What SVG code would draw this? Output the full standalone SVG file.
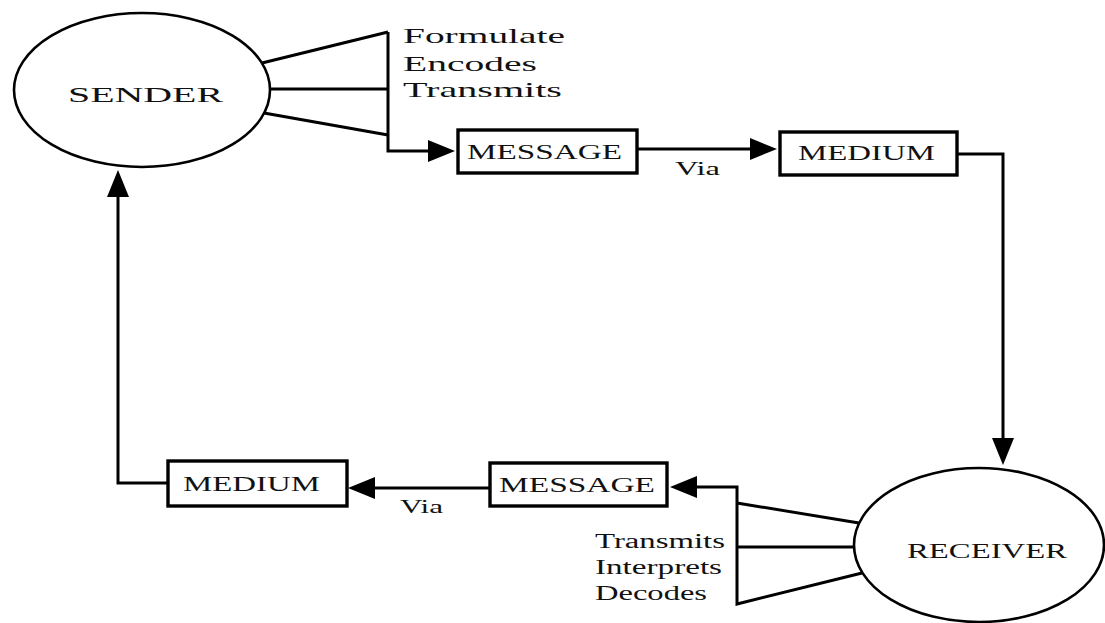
<svg xmlns="http://www.w3.org/2000/svg" width="1105" height="623" viewBox="0 0 1105 623">
  <style>
    .oval { fill: #fff; stroke: #000; stroke-width: 2.6; }
    .box { fill: #fff; stroke: #000; stroke-width: 3.4; }
    .wire { fill: none; stroke: #000; stroke-width: 3; stroke-linejoin: miter; }
    .lbl { font-family: "Liberation Serif", "Times New Roman", serif; fill: #111; }
  </style>
  <defs>
    <marker id="head" viewBox="0 0 27 22" refX="21" refY="11" markerWidth="27" markerHeight="22" markerUnits="userSpaceOnUse" orient="auto">
      <path d="M0,0 L27,11 L0,22 z" fill="#000"/>
    </marker>
  </defs>
  <rect width="1105" height="623" fill="#fff"/>

  <g id="connectors">
    <!-- sender fork and send arrow -->
    <path class="wire" d="M262,63 L388,32"/>
    <path class="wire" d="M270,89 L388,89"/>
    <path class="wire" d="M264,113 L388,135"/>
    <path class="wire" d="M388,32 L388,151 L449,151" marker-end="url(#head)"/>
    <!-- message to medium -->
    <path class="wire" d="M637,149 L771,149" marker-end="url(#head)"/>
    <!-- medium down to receiver -->
    <path class="wire" d="M957,154 L1003,154 L1003,459" marker-end="url(#head)"/>
    <!-- receiver fork and reply arrow -->
    <path class="wire" d="M859,523 L737,503"/>
    <path class="wire" d="M855,547 L737,547"/>
    <path class="wire" d="M862,573 L737,604 L737,487 L676,487" marker-end="url(#head)"/>
    <!-- message back to medium -->
    <path class="wire" d="M490,488 L354,488" marker-end="url(#head)"/>
    <!-- medium back up to sender -->
    <path class="wire" d="M168,483 L118,483 L118,176" marker-end="url(#head)"/>
  </g>

  <g id="via-labels">
    <text class="lbl" x="675" y="175" font-size="19" textLength="45" lengthAdjust="spacingAndGlyphs">Via</text>
    <text class="lbl" x="400" y="513" font-size="19" textLength="43" lengthAdjust="spacingAndGlyphs">Via</text>
  </g>

  <g id="sender">
    <ellipse class="oval" cx="142" cy="90" rx="128" ry="77"/>
    <text class="lbl" x="68" y="102" font-size="22" textLength="155" lengthAdjust="spacingAndGlyphs">SENDER</text>
    <text class="lbl" x="403" y="43" font-size="21" textLength="162" lengthAdjust="spacingAndGlyphs">Formulate</text>
    <text class="lbl" x="403" y="71" font-size="21" textLength="134" lengthAdjust="spacingAndGlyphs">Encodes</text>
    <text class="lbl" x="403" y="97" font-size="21" textLength="159" lengthAdjust="spacingAndGlyphs">Transmits</text>
  </g>

  <g id="message-out">
    <rect class="box" x="458" y="130" width="179" height="43"/>
    <text class="lbl" x="467" y="159" font-size="20" textLength="155" lengthAdjust="spacingAndGlyphs">MESSAGE</text>
  </g>

  <g id="medium-out">
    <rect class="box" x="780" y="132" width="177" height="43"/>
    <text class="lbl" x="798" y="160" font-size="20" textLength="137" lengthAdjust="spacingAndGlyphs">MEDIUM</text>
  </g>

  <g id="receiver">
    <ellipse class="oval" cx="979" cy="545" rx="125" ry="77"/>
    <text class="lbl" x="907" y="558" font-size="21" textLength="160" lengthAdjust="spacingAndGlyphs">RECEIVER</text>
    <text class="lbl" x="595" y="548" font-size="20" textLength="130" lengthAdjust="spacingAndGlyphs">Transmits</text>
    <text class="lbl" x="595" y="574" font-size="20" textLength="127" lengthAdjust="spacingAndGlyphs">Interprets</text>
    <text class="lbl" x="595" y="600" font-size="20" textLength="112" lengthAdjust="spacingAndGlyphs">Decodes</text>
  </g>

  <g id="message-back">
    <rect class="box" x="490" y="463" width="177" height="43"/>
    <text class="lbl" x="499" y="492" font-size="20" textLength="156" lengthAdjust="spacingAndGlyphs">MESSAGE</text>
  </g>

  <g id="medium-back">
    <rect class="box" x="168" y="461" width="179" height="45"/>
    <text class="lbl" x="183" y="491" font-size="20" textLength="137" lengthAdjust="spacingAndGlyphs">MEDIUM</text>
  </g>
</svg>
